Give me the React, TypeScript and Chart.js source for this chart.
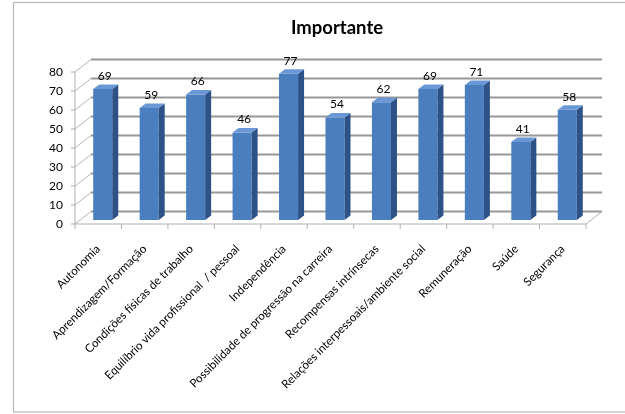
import React, { useEffect, useRef } from "react";
import { Chart, registerables } from "chart.js";

Chart.register(...registerables);

const categories: string[] = [
  "Autonomia",
  "Aprendizagem/Formação",
  "Condições físicas de trabalho",
  "Equilíbrio vida profissional  / pessoal",
  "Independência",
  "Possibilidade de progressão na carreira",
  "Recompensas intrínsecas",
  "Relações interpessoais/ambiente social",
  "Remuneração",
  "Saúde",
  "Segurança",
];
const values: number[] = [69, 59, 66, 46, 77, 54, 62, 69, 71, 41, 58];
const yTicks: number[] = [0, 10, 20, 30, 40, 50, 60, 70, 80];
const chartTitle = "Importante";

const FONT = "Lato, 'Liberation Sans', sans-serif";
const DX = 16; // depth of the back wall
const DY = -12.5;
const BX = 4.5; // bar position inside depth
const BY = -4;
const SX = 6; // bar own depth
const SY = -4.5;

const threeD = {
  id: "threeD",
  beforeDraw(chart: any) {
    const { ctx } = chart;
    const ys = chart.scales.y;
    const area = chart.chartArea;
    const L = area.left;
    const R = area.right;
    ctx.save();
    // outer border
    ctx.strokeStyle = "#b8b8b8";
    ctx.lineWidth = 1.2;
    ctx.strokeRect(13.5, 2.5, 700, 409.5);
    // title
    ctx.fillStyle = "#000";
    ctx.font = `bold 18.5px ${FONT}`;
    ctx.textAlign = "center";
    ctx.textBaseline = "middle";
    ctx.fillText(chartTitle, 337, 28);
    // grid
    yTicks.forEach((v) => {
      const y = ys.getPixelForValue(v);
      ctx.strokeStyle = "#b4b4b4";
      ctx.lineWidth = 1;
      ctx.beginPath();
      ctx.moveTo(L, y);
      ctx.lineTo(L + DX, y + DY);
      ctx.stroke();
      ctx.strokeStyle = "#989898";
      ctx.lineWidth = 1.8;
      ctx.beginPath();
      ctx.moveTo(L + DX, y + DY);
      ctx.lineTo(R + DX, y + DY);
      ctx.stroke();
      // tick mark
      ctx.strokeStyle = "#a8a8a8";
      ctx.lineWidth = 1;
      ctx.beginPath();
      ctx.moveTo(L - 4, y);
      ctx.lineTo(L, y);
      ctx.stroke();
    });
    const y0 = ys.getPixelForValue(0);
    const yTop = ys.getPixelForValue(80);
    ctx.strokeStyle = "#b0b0b0";
    ctx.lineWidth = 1;
    // y axis
    ctx.beginPath();
    ctx.moveTo(L, yTop);
    ctx.lineTo(L, y0);
    ctx.stroke();
    // floor front edge and right edge
    ctx.beginPath();
    ctx.moveTo(L, y0);
    ctx.lineTo(R, y0);
    ctx.lineTo(R + DX, y0 + DY);
    ctx.stroke();
    // category ticks
    const n = categories.length;
    const w = (R - L) / n;
    for (let i = 0; i <= n; i++) {
      const x = L + i * w;
      ctx.beginPath();
      ctx.moveTo(x, y0);
      ctx.lineTo(x, y0 + 5);
      ctx.stroke();
    }
    ctx.restore();
  },
  beforeDatasetsDraw(chart: any) {
    chart.ctx.save();
    chart.ctx.translate(BX, BY);
  },
  afterDatasetsDraw(chart: any) {
    const { ctx } = chart;
    const meta = chart.getDatasetMeta(0);
    meta.data.forEach((bar: any, i: number) => {
      const { x, y, base, width } = bar.getProps(["x", "y", "base", "width"], true);
      const l = x - width / 2;
      const r = x + width / 2;
      // side face
      ctx.fillStyle = "#2d5288";
      ctx.beginPath();
      ctx.moveTo(r, y);
      ctx.lineTo(r + SX, y + SY);
      ctx.lineTo(r + SX, base + SY);
      ctx.lineTo(r, base);
      ctx.closePath();
      ctx.fill();
      // top face
      ctx.fillStyle = "#6a98d6";
      ctx.beginPath();
      ctx.moveTo(l, y);
      ctx.lineTo(r, y);
      ctx.lineTo(r + SX, y + SY);
      ctx.lineTo(l + SX, y + SY);
      ctx.closePath();
      ctx.fill();
      // value label
      ctx.fillStyle = "#000";
      ctx.font = `12px ${FONT}`;
      ctx.textAlign = "center";
      ctx.textBaseline = "middle";
      ctx.fillText(String(values[i]), x + 2, y - 13);
    });
    ctx.restore();
  },
};

export default function App() {
  const ref = useRef<HTMLCanvasElement | null>(null);
  useEffect(() => {
    if (!ref.current) return;
    Chart.defaults.font.family = FONT;
    const chart = new Chart(ref.current, {
      type: "bar",
      data: {
        labels: categories,
        datasets: [
          {
            data: values,
            backgroundColor: "#4a7ebf",
            borderWidth: 0,
            barPercentage: 0.41,
            categoryPercentage: 1.0,
          },
        ],
      },
      options: {
        animation: false,
        responsive: false,
        maintainAspectRatio: false,
        layout: { padding: { left: 0, right: 39, top: 72, bottom: 0 } },
        plugins: {
          legend: { display: false },
          title: { display: false },
          tooltip: { enabled: false },
        },
        scales: {
          x: {
            grid: { display: false, drawTicks: false },
            border: { display: false },
            afterFit: (s: any) => {
              s.height = 190;
            },
            ticks: {
              autoSkip: false,
              maxRotation: 45,
              minRotation: 45,
              padding: 18,
              color: "#000",
              font: { size: 11.6, family: FONT },
            },
          },
          y: {
            min: 0,
            max: 80,
            grid: { display: false, drawTicks: false },
            border: { display: false },
            afterFit: (s: any) => {
              s.width = 75;
            },
            ticks: {
              stepSize: 10,
              padding: 12,
              color: "#000",
              font: { size: 12, family: FONT },
            },
          },
        },
      },
      plugins: [threeD],
    });
    return () => chart.destroy();
  }, []);
  return (
    <div style={{ position: "absolute", left: 0, top: 0, width: 625, height: 414, background: "#fff" }}>
      <canvas ref={ref} width={625} height={414} style={{ width: 625, height: 414 }} />
    </div>
  );
}
